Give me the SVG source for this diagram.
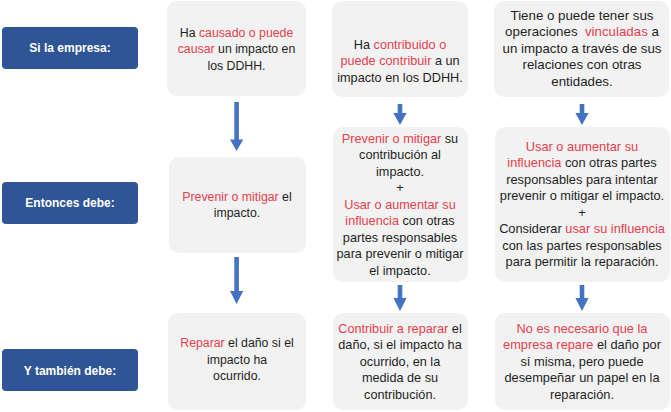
<svg xmlns="http://www.w3.org/2000/svg" width="671" height="412" viewBox="0 0 671 412">
<style>
.lbl{fill:#2F5597}
.box{fill:#F2F2F2}
.lt{font-family:"Liberation Sans",Arial,sans-serif;font-weight:bold;font-size:12px;fill:#FFFFFF;text-anchor:middle}
.t{font-family:"Liberation Sans",Arial,sans-serif;fill:#1E1E1E;text-anchor:middle}
.r{fill:#E8404C}
.c1{font-size:12.3px}
.c2{font-size:12.7px}
.c3a{font-size:13.3px}
.c3{font-size:12.8px}
.arr{fill:#4472C4}
</style>
<rect width="671" height="412" fill="#FFFFFF"/>
<g id="label-si"><rect class="lbl" x="2" y="27" width="136" height="42" rx="4"/><text class="lt" x="70" y="52">Si la empresa:</text></g>
<g id="label-entonces"><rect class="lbl" x="2" y="182" width="136" height="42" rx="4"/><text class="lt" x="70" y="207">Entonces debe:</text></g>
<g id="label-tambien"><rect class="lbl" x="2" y="349" width="136" height="42" rx="4"/><text class="lt" x="70" y="375">Y también debe:</text></g>

<g id="c1-top"><rect class="box" x="167" y="1" width="139" height="95" rx="10"/>
<text class="t c1" x="236.5"><tspan x="236.5" y="36.5">Ha <tspan class="r">causado o puede</tspan></tspan><tspan x="236.5" y="53"><tspan class="r">causar</tspan> un impacto en</tspan><tspan x="236.5" y="69.5">los DDHH.</tspan></text></g>
<g id="c2-top"><rect class="box" x="332" y="1" width="136" height="96" rx="10"/>
<text class="t c2" x="400"><tspan x="400" y="48.5">Ha <tspan class="r">contribuido o</tspan></tspan><tspan x="400" y="65"><tspan class="r">puede contribuir</tspan> a un</tspan><tspan x="400" y="81.5">impacto en los DDHH.</tspan></text></g>
<g id="c3-top"><rect class="box" x="494" y="1" width="175" height="96" rx="10"/>
<text class="t c3a" x="582"><tspan x="582" y="19.5">Tiene o puede tener sus</tspan><tspan x="582" y="36">operaciones &#160;<tspan class="r">vinculadas</tspan> a</tspan><tspan x="582" y="52.5">un impacto a través de sus</tspan><tspan x="582" y="69">relaciones con otras</tspan><tspan x="582" y="85.5">entidades.</tspan></text></g>

<g id="c1-mid"><rect class="box" x="169" y="157" width="137" height="96" rx="10"/>
<text class="t c1" x="237"><tspan x="237" y="200.5"><tspan class="r">Prevenir o mitigar</tspan> el</tspan><tspan x="237" y="217">impacto.</tspan></text></g>
<g id="c2-mid"><rect class="box" x="333" y="127" width="135" height="155" rx="10"/>
<text class="t c2" x="400"><tspan x="400" y="142.5"><tspan class="r">Prevenir o mitigar</tspan> su</tspan><tspan x="400" y="159">contribución al</tspan><tspan x="400" y="175.5">impacto.</tspan><tspan x="400" y="192">+</tspan><tspan x="400" y="208.5" class="r">Usar o aumentar su</tspan><tspan x="400" y="225"><tspan class="r">influencia</tspan> con otras</tspan><tspan x="400" y="241.5">partes responsables</tspan><tspan x="400" y="258">para prevenir o mitigar</tspan><tspan x="400" y="274.5">el impacto.</tspan></text></g>
<g id="c3-mid"><rect class="box" x="495" y="127" width="175" height="155" rx="10"/>
<text class="t c3" x="582"><tspan x="582" y="150.5" class="r">Usar o aumentar su</tspan><tspan x="582" y="167"><tspan class="r">influencia</tspan> con otras partes</tspan><tspan x="582" y="183.5">responsables para intentar</tspan><tspan x="582" y="200">prevenir o mitigar el impacto.</tspan><tspan x="582" y="216.5">+</tspan><tspan x="582" y="233">Considerar <tspan class="r">usar su influencia</tspan></tspan><tspan x="582" y="249.5">con las partes responsables</tspan><tspan x="582" y="266">para permitir la reparación.</tspan></text></g>

<g id="c1-bot"><rect class="box" x="168" y="313" width="138" height="97" rx="10"/>
<text class="t c1" x="237"><tspan x="237" y="347"><tspan class="r">Reparar</tspan> el daño si el</tspan><tspan x="237" y="363.5">impacto ha</tspan><tspan x="237" y="380">ocurrido.</tspan></text></g>
<g id="c2-bot"><rect class="box" x="333" y="313" width="135" height="97" rx="10"/>
<text class="t c2" x="400"><tspan x="400" y="332.5"><tspan class="r">Contribuir a reparar</tspan> el</tspan><tspan x="400" y="349">daño, si el impacto ha</tspan><tspan x="400" y="365.5">ocurrido, en la</tspan><tspan x="400" y="382">medida de su</tspan><tspan x="400" y="398.5">contribución.</tspan></text></g>
<g id="c3-bot"><rect class="box" x="495" y="313" width="175" height="97" rx="10"/>
<text class="t c3" x="582"><tspan x="582" y="332.5" class="r">No es necesario que la</tspan><tspan x="582" y="349"><tspan class="r">empresa repare</tspan> el daño por</tspan><tspan x="582" y="365.5">sí misma, pero puede</tspan><tspan x="582" y="382">desempeñar un papel en la</tspan><tspan x="582" y="398.5">reparación.</tspan></text></g>

<g id="connectors">
<path class="arr" d="M234.3,102 h4.6 v37.5 h4.3 L236.6,151 L230,139.5 h4.3 z"/>
<path class="arr" d="M234.3,257 h4.6 v34 h4.3 L236.6,304 L230,291 h4.3 z"/>
<path class="arr" d="M397.7,104 h4.6 v9 h4.3 L400,125 L393.4,113 h4.3 z"/>
<path class="arr" d="M397.7,285 h4.6 v13 h4.3 L400,311 L393.4,298 h4.3 z"/>
<path class="arr" d="M579.7,104 h4.6 v9 h4.3 L582,125 L575.4,113 h4.3 z"/>
<path class="arr" d="M579.7,285 h4.6 v13 h4.3 L582,311 L575.4,298 h4.3 z"/>
</g>
</svg>
